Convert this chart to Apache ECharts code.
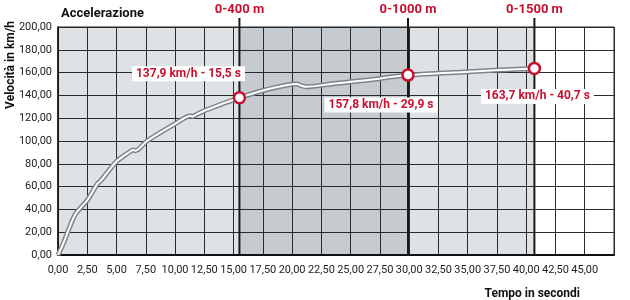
<!DOCTYPE html>
<html><head><meta charset="utf-8">
<script src="https://cdn.jsdelivr.net/npm/echarts@6/dist/echarts.min.js"></script>
<style>html,body{margin:0;padding:0;background:#fff}#c{width:630px;height:300px}</style>
</head><body><div id="c"></div>
<script>
const times  = [0, 0.45, 0.9, 1.5, 2.5, 3.4, 3.6, 5.0, 6.2, 6.4, 6.6, 7.6, 10.0, 11.3, 11.5, 11.7, 12.6, 15.5, 17.6, 20.4, 20.8, 21.2, 23.3, 26.1, 29.9, 34.7, 40.7];
const speeds = [0, 10, 22, 36, 48, 63, 64.5, 82, 91, 92, 91.5, 100, 115, 122, 121.5, 122.5, 127, 137.9, 144.5, 150, 148.5, 147.5, 150, 153, 157.8, 160.6, 163.7];
const markTimes  = [15.5, 29.9, 40.7];
const markSpeeds = [137.9, 157.8, 163.7];
const markLabels = ['137,9 km/h - 15,5 s', '157,8 km/h - 29,9 s', '163,7 km/h - 40,7 s'];
const distLabels = ['0-400 m', '0-1000 m', '0-1500 m'];
const xTicks = {min: 0, max: 47.5, step: 2.5, lastLabel: 45};
const yTicks = {min: 0, max: 200, step: 20};

const RED = '#c8102e';
const FONT = 'Roboto';
const labelOffsets = [[-51, -24], [-27, 30], [3, 28]];
const fmt = v => v.toFixed(2).replace('.', ',');
const pts = times.map((t, i) => [t, speeds[i]]);

const chart = echarts.init(document.getElementById('c'), null, {renderer: 'canvas'});
chart.setOption({
  animation: false,
  textStyle: {fontFamily: FONT},
  title: [
    {text: 'Accelerazione', left: 56, top: 2, textStyle: {fontFamily: FONT, fontSize: 13, fontWeight: 'bold', color: '#111'}},
    {text: 'Tempo in secondi', right: 45, top: 283, textStyle: {fontFamily: FONT, fontSize: 12, fontWeight: 'bold', color: '#111'}}
  ],
  graphic: [{
    type: 'text', x: 11, y: 65, rotation: Math.PI / 2,
    style: {text: 'Velocità in km/h', fontFamily: FONT, fontSize: 12, fontWeight: 'bold', fill: '#111', align: 'center', verticalAlign: 'middle'}
  }],
  grid: {left: 58, right: 16, top: 27, bottom: 45, show: true, backgroundColor: 'transparent', borderColor: '#222', borderWidth: 1, z: 2},
  xAxis: {
    type: 'value', min: xTicks.min, max: xTicks.max, interval: xTicks.step, z: 2,
    axisLine: {show: true, lineStyle: {color: '#111', width: 2}},
    axisTick: {show: false},
    splitLine: {show: true, lineStyle: {color: '#2a2a2a', width: 1}},
    axisLabel: {margin: 10, fontSize: 11, color: '#222', fontFamily: FONT,
      formatter: v => v > xTicks.lastLabel ? '' : fmt(v)}
  },
  yAxis: {
    type: 'value', min: yTicks.min, max: yTicks.max, interval: yTicks.step, z: 2,
    axisLine: {show: true, lineStyle: {color: '#111', width: 1.5}},
    axisTick: {show: false},
    splitLine: {show: true, lineStyle: {color: '#2a2a2a', width: 1}},
    axisLabel: {margin: 6, fontSize: 11, color: '#222', fontFamily: FONT, formatter: v => fmt(v)}
  },
  series: [
    {
      type: 'line', data: [], z: 0, silent: true,
      markArea: {
        silent: true, z: 0,
        data: [
          [{xAxis: 0, itemStyle: {color: '#dfe2e5'}}, {xAxis: markTimes[0]}],
          [{xAxis: markTimes[0], itemStyle: {color: '#c6cbcf'}}, {xAxis: markTimes[1]}],
          [{xAxis: markTimes[1], itemStyle: {color: '#dfe2e5'}}, {xAxis: markTimes[2]}]
        ]
      }
    },
    {
      type: 'custom', z: 3, silent: true, clip: false,
      data: markTimes.map(t => [t]),
      renderItem: (params, api) => {
        const t = api.value(0);
        const p0 = api.coord([t, yTicks.min]);
        const p1 = api.coord([t, yTicks.max]);
        return {
          type: 'group',
          children: [
            {type: 'line', shape: {x1: p0[0], y1: p0[1], x2: p1[0], y2: p1[1] - 9},
             style: {stroke: '#1a1a1a', lineWidth: 2}},
            {type: 'text', x: p1[0], y: p1[1] - 17,
             style: {text: distLabels[params.dataIndex], fill: RED, fontFamily: FONT, fontSize: 13, fontWeight: 'bold',
                     align: 'center', verticalAlign: 'middle'}}
          ]
        };
      }
    },
    {
      type: 'line', data: pts, symbol: 'none', smooth: 0.3, z: 4,
      lineStyle: {color: '#7c848b', width: 5}
    },
    {
      type: 'line', data: pts, symbol: 'none', smooth: 0.3, z: 5,
      lineStyle: {color: '#ffffff', width: 2}
    },
    {
      type: 'scatter', z: 6, symbol: 'circle', symbolSize: 11,
      itemStyle: {color: '#ffffff', borderColor: RED, borderWidth: 2.5, opacity: 1},
      data: markTimes.map((t, i) => ({
        value: [t, markSpeeds[i]],
        label: {
          show: true, position: 'inside', offset: labelOffsets[i], formatter: markLabels[i],
          color: RED, fontWeight: 'bold', fontSize: 12, fontFamily: FONT, opacity: 1,
          backgroundColor: '#ffffff', padding: [2, 4, 1, 4]
        }
      }))
    }
  ]
});
</script></body></html>
